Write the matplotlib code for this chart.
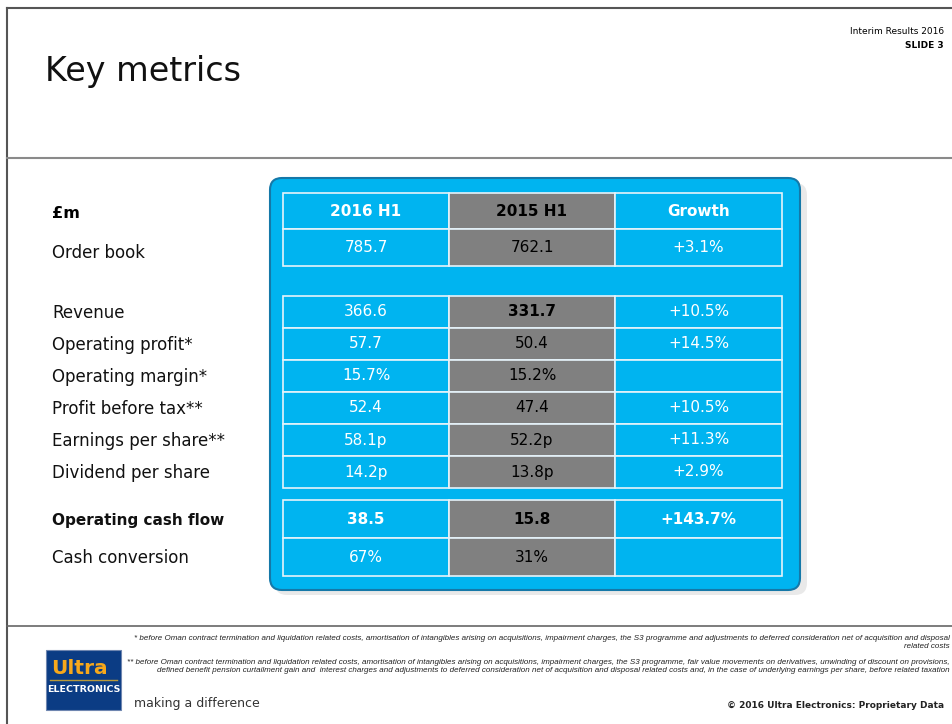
import matplotlib.pyplot as plt
from matplotlib.patches import FancyBboxPatch, Rectangle

# table content
columns = ["2016 H1", "2015 H1", "Growth"]
row_labels = ["Order book", "Revenue", "Operating profit*", "Operating margin*",
              "Profit before tax**", "Earnings per share**", "Dividend per share",
              "Operating cash flow", "Cash conversion"]
values_2016 = ["785.7", "366.6", "57.7", "15.7%", "52.4", "58.1p", "14.2p", "38.5", "67%"]
values_2015 = ["762.1", "331.7", "50.4", "15.2%", "47.4", "52.2p", "13.8p", "15.8", "31%"]
growth = ["+3.1%", "+10.5%", "+14.5%", "", "+10.5%", "+11.3%", "+2.9%", "+143.7%", ""]
group_sizes = [1, 6, 2]

foot1 = ("* before Oman contract termination and liquidation related costs, amortisation of intangibles "
         "arising on acquisitions, impairment charges, the S3 programme and adjustments to deferred "
         "consideration net of acquisition and disposal\nrelated costs")
foot2 = ("** before Oman contract termination and liquidation related costs, amortisation of intangibles "
         "arising on acquisitions, impairment charges, the S3 programme, fair value movements on derivatives, "
         "unwinding of discount on provisions,\ndefined benefit pension curtailment gain and  interest charges "
         "and adjustments to deferred consideration net of acquisition and disposal related costs and, in the "
         "case of underlying earnings per share, before related taxation")

BLUE = "#00B4F0"
GREY = "#808080"
LINE = "#E6F3FA"

fig = plt.figure(figsize=(9.52, 7.24), dpi=100)
ax = fig.add_axes([0, 0, 1, 1])
ax.set_xlim(0, 952)
ax.set_ylim(724, 0)
ax.axis("off")

# slide frame and separators
ax.plot([7, 952], [8, 8], color="#555555", lw=1.5)
ax.plot([7, 7], [8, 724], color="#555555", lw=1.5)
ax.plot([7, 952], [158, 158], color="#8a8a8a", lw=1.5)
ax.plot([7, 952], [626, 626], color="#666666", lw=1.2)

ax.text(45, 71, "Key metrics", fontsize=24, va="center", color="#111111")
ax.text(944, 31, "Interim Results 2016", fontsize=6.5, ha="right", va="center")
ax.text(944, 46, "SLIDE 3", fontsize=6.5, ha="right", va="center", fontweight="bold")

# table box with shadow
ax.add_patch(FancyBboxPatch((275, 183), 532, 412, boxstyle="round,pad=0,rounding_size=12",
                            fc="#d0d0d0", ec="none", alpha=0.45))
ax.add_patch(FancyBboxPatch((270, 178), 530, 412, boxstyle="round,pad=0,rounding_size=12",
                            fc=BLUE, ec="#1578a8", lw=1.5))

col_x = [283, 449, 615, 782]
col_fill = [BLUE, GREY, BLUE]
col_color = ["white", "black", "white"]


def draw_cell(c, top, h, text, bold):
    x0, x1 = col_x[c], col_x[c + 1]
    ax.add_patch(Rectangle((x0, top), x1 - x0, h, fc=col_fill[c], ec=LINE, lw=1.2))
    ax.text((x0 + x1) / 2, top + h / 2, text, ha="center", va="center", fontsize=11,
            color=col_color[c], fontweight="bold" if bold else "normal")


# header
for c, name in enumerate(columns):
    draw_cell(c, 193, 36, name, True)
ax.text(52, 213, "£m", fontsize=11.5, fontweight="bold", va="center")

group_tops = [229, 296, 500]
group_heights = [37, 32, 38]
i = 0
for g, n in enumerate(group_sizes):
    for k in range(n):
        top = group_tops[g] + k * group_heights[g]
        h = group_heights[g]
        bold_row = row_labels[i] == "Operating cash flow"
        draw_cell(0, top, h, values_2016[i], bold_row)
        draw_cell(1, top, h, values_2015[i], bold_row or row_labels[i] == "Revenue")
        draw_cell(2, top, h, growth[i], bold_row)
        ax.text(52, top + h / 2 + (5 if g == 0 else 1), row_labels[i],
                fontsize=11 if bold_row else 12, va="center",
                fontweight="bold" if bold_row else "normal", color="#111111")
        i += 1

# footnotes
ax.text(950, 642, foot1, fontsize=5.8, style="italic", ha="right", va="center",
        multialignment="right", family="Liberation Sans", color="#222222")
ax.text(950, 666, foot2, fontsize=5.75, style="italic", ha="right", va="center",
        multialignment="right", family="Liberation Sans", color="#222222")

# logo
ax.add_patch(Rectangle((46, 650), 75, 60, fc="#0B3C84", ec="#6f86b0", lw=0.8))
ax.text(51, 669, "Ultra", fontsize=14.5, fontweight="bold", color="#F7A81B", va="center")
ax.plot([50, 117], [680, 680], color="#B99A3A", lw=1)
ax.text(83.5, 690, "ELECTRONICS", fontsize=6.8, fontweight="bold", color="white",
        ha="center", va="center")
ax.text(134, 703, "making a difference", fontsize=9, color="#333333", va="center")
ax.text(944, 706, "© 2016 Ultra Electronics: Proprietary Data", fontsize=6.5,
        fontweight="bold", ha="right", va="center", color="#222222")

fig.savefig("out.png", dpi=100)
